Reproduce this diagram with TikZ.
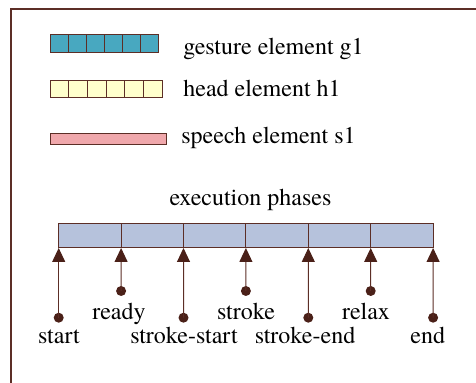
\documentclass[tikz,border=0pt]{standalone}
\usepackage{fontspec}
\newfontfamily\tnr{texgyretermes-regular.otf}
\usetikzlibrary{arrows.meta}
\definecolor{lc}{HTML}{5C2E26}
\definecolor{dotc}{HTML}{4A2018}
\definecolor{gcol}{HTML}{48A8C0}
\definecolor{hcol}{HTML}{FFFFCC}
\definecolor{scol}{HTML}{F0A8AC}
\definecolor{pcol}{HTML}{B6C2DC}
\begin{document}
\begin{tikzpicture}[x=0.5pt,y=-0.5pt,
 cellline/.style={draw=lc,line width=0.5pt},
 lbl/.style={inner sep=0,font=\tnr\fontsize{12}{14}\selectfont},
 dotnode/.style={circle,fill=dotc,inner sep=0,minimum size=5pt},
 tickarrow/.style={draw=lc,line width=0.5pt,-{Triangle[width=6.5pt,length=7pt,fill=dotc,color=dotc]}}]
\useasboundingbox (0,0) rectangle (476,383);
\draw[lc,line width=0.6pt] (11,383) -- (11,9) -- (476,9);
% legend bars
\foreach \i in {0,...,5} \draw[cellline,fill=gcol] ({50+18*\i},35) rectangle ++(18,18);
\foreach \i in {0,...,5} \draw[cellline,fill=hcol] ({50+18.667*\i},81) rectangle ++(18.667,16.5);
\draw[cellline,fill=scol] (50,134) rectangle (166,145);
\node[lbl,anchor=base west] (gt) at (183,55) {gesture element g1};
\node[lbl,anchor=base west] (ht) at (183,96.7) {head element h1};
\node[lbl,anchor=base west] (st) at (181,143.3) {speech element s1};
% phases
\node[lbl,anchor=base] (ep) at (250.5,206) {execution phases};
\foreach \i in {0,...,5} \draw[cellline,fill=pcol] ({58.7+62.4*\i},224) rectangle ++(62.4,24);
\foreach \i in {0,...,6} \coordinate (t\i) at ({58.7+62.4*\i},248);
\node[dotnode] (d0) at (58.7,317.7) {};
\node[dotnode] (d1) at (121.1,291) {};
\node[dotnode] (d2) at (183.5,317.7) {};
\node[dotnode] (d3) at (245.9,291) {};
\node[dotnode] (d4) at (308.3,317.7) {};
\node[dotnode] (d5) at (370.7,291) {};
\node[dotnode] (d6) at (433.1,317.7) {};
\foreach \i in {0,...,6} \draw[tickarrow] (d\i.center) -- (t\i);
\node[lbl,anchor=base] (l0) at (59,343.3) {start};
\node[lbl,anchor=base] (l1) at (119,319.3) {ready};
\node[lbl,anchor=base] (l2) at (184,343.3) {stroke-start};
\node[lbl,anchor=base] (l3) at (246,319.3) {stroke};
\node[lbl,anchor=base] (l4) at (305,343.3) {stroke-end};
\node[lbl,anchor=base] (l5) at (366,319.3) {relax};
\node[lbl,anchor=base] (l6) at (427.7,343.3) {end};
\end{tikzpicture}
\end{document}
